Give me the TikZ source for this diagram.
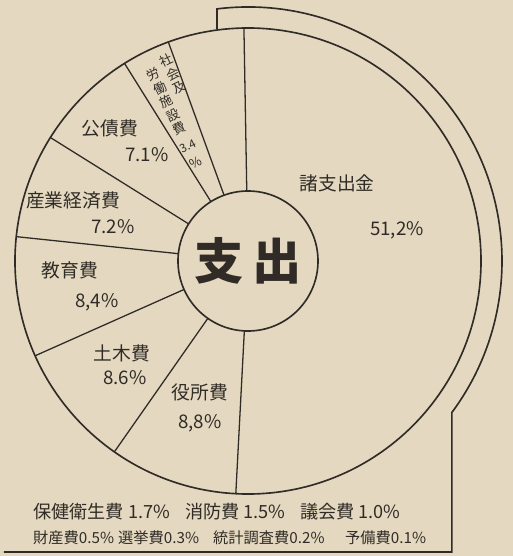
\documentclass[tikz,border=0pt]{standalone}
\usepackage{fontspec}
\setmainfont{Noto Sans CJK JP}
\definecolor{paper}{RGB}{228,217,192}
\definecolor{ink}{RGB}{48,43,38}
\tikzset{
  rim/.style={ink, line width=1.4pt},
  spoke/.style={ink, line width=1.1pt},
  lbl/.style={text=ink, font=\fontsize{16}{19}\selectfont},
  pct/.style={text=ink, font=\fontsize{16}{19}\selectfont},
  tate/.style={text=ink, rotate=26, inner sep=0pt, font=\fontsize{11}{13}\selectfont},
  footA/.style={text=ink, anchor=west, inner sep=0pt, font=\fontsize{15.5}{18}\selectfont},
  footB/.style={text=ink, anchor=west, inner sep=0pt, font=\fontsize{13}{16}\selectfont},
}
\begin{document}
\begin{tikzpicture}[x=0.03cm,y=0.03cm]
\useasboundingbox (-248,-295) rectangle (265,261);
\fill[paper] (-248,-295) rectangle (265,261);
% pie and hub
\node[circle,rim,draw,minimum size=13.98cm,inner sep=0pt,outer sep=0pt] (pie) at (0,0) {};
\node[circle,rim,draw,minimum size=4.2cm,inner sep=0pt,outer sep=0pt,
      text=ink,font=\fontsize{42}{46}\selectfont\bfseries] (hub) at (0,0) {支\hspace{8pt}出};
\foreach \a in {91,110,122,148,174,204,235,267}
  \draw[spoke] (hub.\a) -- (pie.\a);
% bracket round the big slice
\coordinate (brtop) at (97:254);
\coordinate (brend) at (-36.6:254);
\coordinate (foot) at (-244,-291);
\draw[rim] (brtop |- pie.97) -- (brtop) arc[start angle=97,end angle=-36.6,radius=254]
  -- (brend |- foot) -- (foot);
% slices
\node[lbl] (shoshi) at (89,78) {諸支出金};
\node[pct] (shoshiP) at (149,31) {51,2\%};
\node[tate] (shakai) at (-67,148) {\def\arraystretch{0.95}%
  \begin{tabular}[t]{@{}c@{}}労\\働\\施\\設\\費\\[4pt]{\fontsize{10}{12}\selectfont3.4}\\[3pt]\%\end{tabular}\hspace{3pt}%
  \raisebox{6pt}{\begin{tabular}[t]{@{}c@{}}社\\会\\及\end{tabular}}};
\node[lbl] (kosai) at (-138,133) {公債費};
\node[pct] (kosaiP) at (-101,106) {7.1\%};
\node[lbl] (sangyo) at (-175,61) {産業経済費};
\node[pct] (sangyoP) at (-135,34) {7.2\%};
\node[lbl] (kyoiku) at (-178,-9) {教育費};
\node[pct] (kyoikuP) at (-151,-41) {8,4\%};
\node[lbl] (doboku) at (-126,-92) {土木費};
\node[pct] (dobokuP) at (-123,-117) {8.6\%};
\node[lbl] (yakusho) at (-48,-131) {役所費};
\node[pct] (yakushoP) at (-48,-162) {8,8\%};
% small items
\node[footA] (hoken) at (-215,-251) {保健衛生費 1.7\%};
\node[footA] (shobo) at (-63,-251) {消防費 1.5\%};
\node[footA] (gikai) at (52,-251) {議会費 1.0\%};
\node[footB] (zaisan) at (-215,-277) {財産費0.5\%};
\node[footB] (senkyo) at (-130,-277) {選挙費0.3\%};
\node[footB] (tokei) at (-35,-277) {統計調査費0.2\%};
\node[footB] (yobi) at (97,-277) {予備費0.1\%};
\end{tikzpicture}
\end{document}
